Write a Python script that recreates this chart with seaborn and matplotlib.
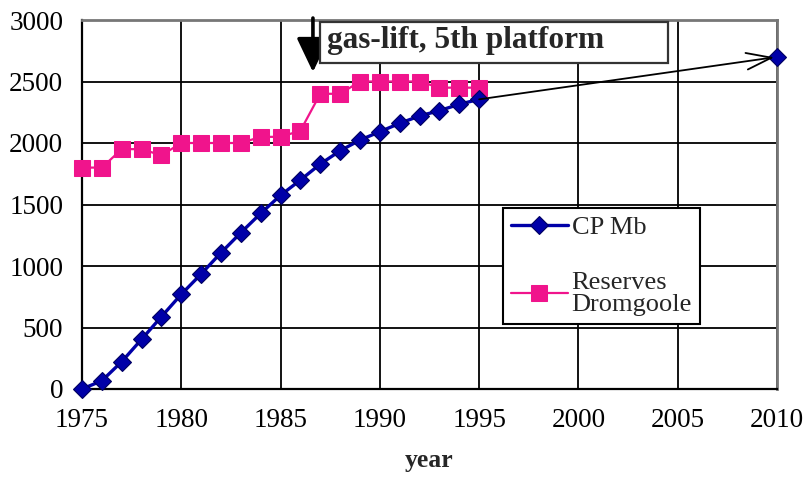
import matplotlib
matplotlib.use("Agg")
import matplotlib.pyplot as plt
from matplotlib.patches import Rectangle
import seaborn as sns
import pandas as pd

sns.set_theme(style="white")
plt.rcParams["font.family"] = ["Liberation Serif", "DejaVu Serif"]

# cumulative production (Mb) by year
cp_years = list(range(1975, 1996))
cp_mb = [0, 67, 222, 404, 588, 770, 935, 1108, 1271, 1428, 1575,
         1699, 1829, 1937, 2024, 2092, 2160, 2220, 2263, 2315, 2355]

# projected cumulative production
proj_year = 2010
proj_mb = 2700

# reserves estimate (Dromgoole)
res_years = list(range(1975, 1996))
reserves = [1800, 1800, 1950, 1950, 1900, 2000, 2000, 2000, 2000, 2050, 2050,
            2100, 2400, 2400, 2500, 2500, 2500, 2500, 2450, 2450, 2450]

x_ticks = [1975, 1980, 1985, 1990, 1995, 2000, 2005, 2010]
y_ticks = [0, 500, 1000, 1500, 2000, 2500, 3000]

BLUE = "#0000A8"
PINK = "#F0148C"

cp_df = pd.DataFrame({"year": cp_years, "value": cp_mb})
res_df = pd.DataFrame({"year": res_years, "value": reserves})

fig = plt.figure(figsize=(8.09, 4.79), dpi=100)
ax = fig.add_axes([82 / 809, 1 - 389 / 479, 695 / 809, 369 / 479])

sns.lineplot(data=cp_df, x="year", y="value", ax=ax, color=BLUE, lw=2.4,
             marker="D", markersize=9.5, markeredgecolor="#000060",
             markeredgewidth=0.8, label="CP Mb", clip_on=False, zorder=4)
sns.lineplot(data=res_df, x="year", y="value", ax=ax, color=PINK, lw=1.6,
             marker="s", markersize=11.5, markeredgecolor=PINK,
             label="Reserves\nDromgoole", clip_on=False, zorder=3)

# projection point and arrow
ax.plot([proj_year], [proj_mb], marker="D", markersize=9.5, color=BLUE,
        markeredgecolor="#000060", markeredgewidth=0.8, clip_on=False, zorder=5)
ax.annotate("", xy=(proj_year, proj_mb), xytext=(cp_years[-1], cp_mb[-1]),
            arrowprops=dict(arrowstyle="->,head_length=1.8,head_width=0.6",
                            mutation_scale=10, color="black", lw=1.3,
                            shrinkA=0, shrinkB=2),
            annotation_clip=False, zorder=6)

# event marker: arrow and labelled box
ax.annotate("", xy=(1986.63, 2577), xytext=(1986.63, 3016),
            arrowprops=dict(arrowstyle="-|>,head_length=2.1,head_width=1.0",
                            mutation_scale=10, color="black", lw=2.6,
                            shrinkA=0, shrinkB=0),
            annotation_clip=False, zorder=6)
ax.add_patch(Rectangle((1986.99, 2650), 17.52, 334, facecolor="white",
                       edgecolor="#333333", lw=1.6, zorder=7, clip_on=False))
ax.text(1987.35, 2835, "gas-lift, 5th platform", fontsize=22.5,
        fontweight="bold", va="center", ha="left", zorder=8)

ax.set_xlim(1975, 2010)
ax.set_ylim(0, 3000)
ax.set_xticks(x_ticks)
ax.set_yticks(y_ticks)
ax.grid(True, color="black", lw=1.3)
ax.set_axisbelow(True)

for side in ["left", "bottom"]:
    ax.spines[side].set_color("black")
    ax.spines[side].set_linewidth(1.6)
for side in ["top", "right"]:
    ax.spines[side].set_color("#777777")
    ax.spines[side].set_linewidth(2.0)

ax.tick_params(axis="both", labelsize=19.5, colors="black", direction="out",
               width=1.3)
ax.tick_params(axis="x", length=7, pad=7)
ax.tick_params(axis="y", length=4.5, pad=9)
ax.set_xlabel("year", fontsize=18.5, fontweight="bold", labelpad=11)
ax.set_ylabel("")

leg = ax.legend(loc="lower left", bbox_to_anchor=(0.6058, 0.176),
                fontsize=19, frameon=True, fancybox=False, labelspacing=1.25,
                handlelength=2.15, handletextpad=0.15, borderpad=0.3,
                borderaxespad=0)
for t in leg.get_texts():
    t.set_linespacing(1.0)
leg.get_frame().set_edgecolor("black")
leg.get_frame().set_linewidth(1.5)
leg.get_frame().set_alpha(1)

fig.savefig("out.png", dpi=100)
